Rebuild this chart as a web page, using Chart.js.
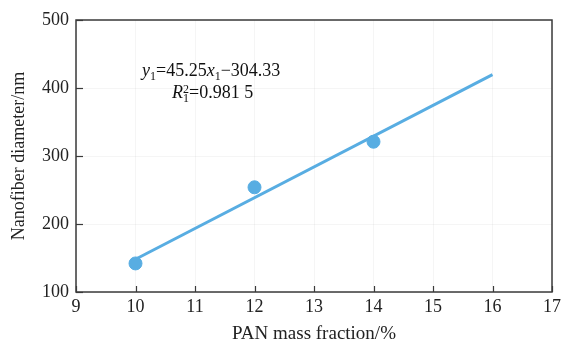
<!DOCTYPE html>
<html><head><meta charset="utf-8">
<script src="https://cdn.jsdelivr.net/npm/chart.js@4"></script>
<style>html,body{margin:0;padding:0;background:#fff}#w{width:565px;height:342px}</style>
</head><body><div id="w"><canvas id="c"></canvas></div>
<script>
const massFraction = [10, 12, 14];
const diameter = [142, 254, 321];
const fitX = [10, 16];
const fitY = [148.2, 419.7];
const xTicks = [9, 10, 11, 12, 13, 14, 15, 16, 17];
const yTicks = [100, 200, 300, 400, 500];

const BLUE = '#58ade2';
const AX = '#3a3a3a';
const FONT = '"Liberation Serif", "Times New Roman", serif';

const frame = {
  id: 'frame',
  afterDraw(chart) {
    const {ctx, chartArea: a, scales: {x, y}} = chart;
    ctx.save();
    ctx.strokeStyle = AX; ctx.lineWidth = 1.5;
    ctx.strokeRect(a.left, a.top, a.right - a.left, a.bottom - a.top);
    ctx.lineWidth = 1.2;
    xTicks.forEach(v => {
      const px = Math.round(x.getPixelForValue(v)) + 0.5;
      ctx.beginPath(); ctx.moveTo(px, a.bottom); ctx.lineTo(px, a.bottom - 6); ctx.stroke();
    });
    yTicks.forEach(v => {
      const py = Math.round(y.getPixelForValue(v)) + 0.5;
      ctx.beginPath(); ctx.moveTo(a.left, py); ctx.lineTo(a.left + 7, py); ctx.stroke();
    });
    // annotation
    ctx.fillStyle = '#111';
    ctx.textBaseline = 'alphabetic';
    const big = '18px ' + FONT, it = 'italic 18px ' + FONT, sm = '12px ' + FONT;
    function seg(parts, x0, y0) {
      let xx = x0;
      parts.forEach(p => {
        ctx.font = p.f;
        ctx.fillText(p.t, xx, y0 + (p.dy || 0));
        if (!p.noadv) xx += ctx.measureText(p.t).width;
      });
    }
    seg([
      {t: 'y', f: it}, {t: '1', f: sm, dy: 4}, {t: '=45.25', f: big},
      {t: 'x', f: it}, {t: '1', f: sm, dy: 4}, {t: '\u2212304.33', f: big}
    ], 142, 76);
    seg([
      {t: 'R', f: it}, {t: '2', f: sm, dy: -5, noadv: true}, {t: '1', f: sm, dy: 4},
      {t: '=0.981 5', f: big}
    ], 172, 98);
    ctx.restore();
  }
};

new Chart(document.getElementById('c'), {
  type: 'scatter',
  data: {
    datasets: [
      {
        data: massFraction.map((v, i) => ({x: v, y: diameter[i]})),
        backgroundColor: BLUE, borderColor: BLUE,
        pointRadius: 6.5, pointHoverRadius: 6.5, showLine: false
      },
      {
        data: fitX.map((v, i) => ({x: v, y: fitY[i]})),
        borderColor: BLUE, borderWidth: 3, pointRadius: 0, showLine: true, fill: false
      }
    ]
  },
  options: {
    responsive: true, maintainAspectRatio: false, animation: false,
    layout: {padding: {top: 20, right: 12, left: 0, bottom: -3}},
    plugins: {legend: {display: false}, tooltip: {enabled: false}},
    scales: {
      x: {
        type: 'linear', min: 9, max: 17,
        afterBuildTicks: s => { s.ticks = xTicks.map(v => ({value: v})); },
        afterFit: s => { s.height = 53; },
        border: {display: false},
        grid: {color: 'rgba(0,0,0,0.04)', tickLength: 0, drawTicks: false},
        ticks: {color: '#222', font: {family: FONT, size: 18}, padding: 4},
        title: {display: true, text: 'PAN mass fraction/%', color: '#222',
                font: {family: FONT, size: 19}, padding: {top: 4, bottom: 0}}
      },
      y: {
        min: 100, max: 500,
        afterBuildTicks: s => { s.ticks = yTicks.map(v => ({value: v})); },
        afterFit: s => { s.width = 76; },
        border: {display: false},
        grid: {color: 'rgba(0,0,0,0.04)', tickLength: 0, drawTicks: false},
        ticks: {color: '#222', font: {family: FONT, size: 18}, padding: 7},
        title: {display: true, text: 'Nanofiber diameter/nm', color: '#222',
                font: {family: FONT, size: 18}, padding: {top: 8, bottom: 0}}
      }
    }
  },
  plugins: [frame]
});
</script></body></html>
